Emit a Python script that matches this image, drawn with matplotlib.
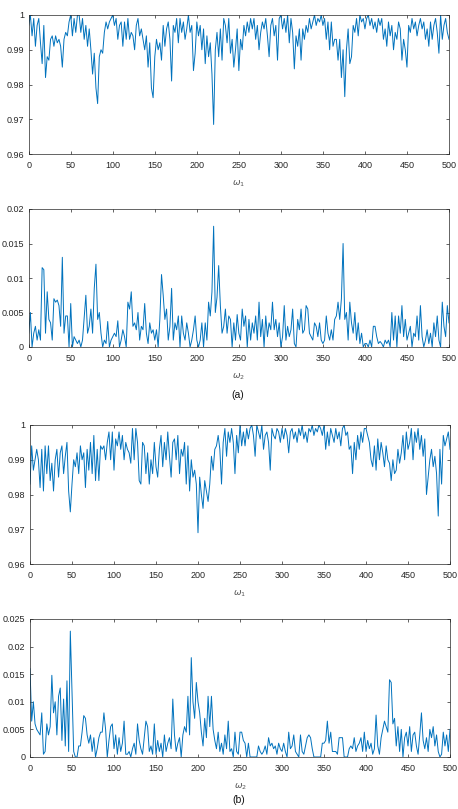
import numpy as np
import matplotlib
matplotlib.use("Agg")
import matplotlib.pyplot as plt
from matplotlib.ticker import FuncFormatter

# ========================= DATA =========================
# each series is sampled every 2 units over 0..500
A_W1 = [
    0.997, 1.000, 0.994, 0.999, 0.991, 0.997, 0.999, 0.992, 0.986, 0.997,
    0.982, 0.988, 0.987, 0.993, 0.994, 0.991, 0.994, 0.992, 0.993, 0.991,
    0.985, 0.993, 0.995, 0.994, 0.998, 1.000, 0.994, 0.999, 0.995, 1.000,
    1.000, 0.995, 0.999, 0.993, 0.997, 0.991, 0.996, 0.990, 0.983, 0.989,
    0.979, 0.9745, 0.988, 0.990, 0.989, 0.995, 0.998, 0.996, 0.998, 0.999,
    1.000, 0.997, 0.999, 0.993, 0.997, 0.998, 0.991, 0.998, 0.993, 0.999,
    0.993, 0.995, 0.994, 0.990, 0.997, 0.999, 0.994, 0.996, 0.993, 0.990,
    0.994, 0.985, 0.992, 0.979, 0.9762, 0.988, 0.993, 0.990, 0.992, 0.987,
    0.997, 0.991, 0.996, 0.998, 0.993, 0.981, 0.997, 0.995, 0.999, 0.992,
    0.999, 0.995, 0.998, 0.993, 0.996, 1.000, 0.995, 0.997, 0.984, 0.989,
    0.998, 0.994, 0.997, 0.990, 0.996, 0.986, 0.994, 0.988, 0.992, 0.983,
    0.9685, 0.990, 0.995, 0.988, 0.996, 0.987, 0.999, 0.997, 0.992, 0.999,
    0.989, 0.993, 0.985, 0.990, 0.996, 0.984, 0.993, 0.990, 0.997, 0.994,
    0.998, 0.995, 0.999, 0.996, 0.999, 0.993, 0.997, 0.990, 0.995, 0.998,
    0.996, 0.999, 0.994, 0.988, 0.997, 0.999, 0.994, 0.997, 0.987, 0.999,
    1.000, 0.996, 0.999, 0.995, 1.000, 0.992, 0.999, 0.995, 0.9845, 0.994,
    0.991, 0.996, 0.987, 0.996, 0.993, 0.997, 0.995, 0.999, 0.996, 0.998,
    1.000, 0.997, 0.999, 0.998, 1.000, 0.997, 0.999, 0.993, 0.998, 0.990,
    0.998, 0.991, 0.993, 0.993, 0.987, 0.993, 0.982, 0.990, 0.9765, 0.990,
    0.996, 0.986, 0.988, 0.997, 0.995, 0.999, 0.994, 1.000, 0.998, 0.999,
    0.996, 0.999, 1.000, 0.997, 0.999, 0.996, 0.998, 0.995, 0.999, 0.997,
    0.999, 0.993, 0.996, 0.991, 0.998, 0.994, 0.997, 0.990, 0.995, 0.993,
    0.998, 0.996, 0.987, 0.993, 0.990, 0.985, 0.997, 0.995, 0.999, 0.996,
    0.998, 0.994, 0.997, 0.999, 0.996, 0.998, 0.993, 0.996, 0.991, 0.998,
    0.993, 0.997, 0.999, 0.995, 0.989, 1.000, 0.993, 0.997, 0.999, 0.995,
    0.993,
]

A_W2 = [
    0.002, 0.005, 0.000, 0.002, 0.003, 0.001, 0.0025, 0.001, 0.0115, 0.0112,
    0.002, 0.008, 0.004, 0.0035, 0.001, 0.007, 0.0065, 0.0068, 0.006, 0.003,
    0.013, 0.002, 0.0045, 0.0045, 0.000, 0.0063, 0.000, 0.0015, 0.001, 0.0005,
    0.001, 0.000, 0.001, 0.0042, 0.0075, 0.002, 0.003, 0.0055, 0.002, 0.0085,
    0.012, 0.004, 0.005, 0.002, 0.000, 0.001, 0.0005, 0.0037, 0.000, 0.001,
    0.0015, 0.002, 0.0015, 0.0038, 0.000, 0.001, 0.0025, 0.0015, 0.000, 0.0065,
    0.0055, 0.008, 0.003, 0.0035, 0.0025, 0.005, 0.001, 0.003, 0.0025, 0.0063,
    0.002, 0.0005, 0.0035, 0.002, 0.0025, 0.001, 0.0025, 0.000, 0.004, 0.0105,
    0.0075, 0.004, 0.0055, 0.001, 0.003, 0.0085, 0.001, 0.0035, 0.0025, 0.0045,
    0.000, 0.0045, 0.002, 0.001, 0.0035, 0.002, 0.000, 0.001, 0.0025, 0.0045,
    0.001, 0.000, 0.001, 0.0035, 0.000, 0.0035, 0.001, 0.0065, 0.0045, 0.008,
    0.0175, 0.005, 0.0072, 0.0118, 0.006, 0.002, 0.003, 0.0055, 0.002, 0.0045,
    0.004, 0.000, 0.0035, 0.001, 0.0047, 0.002, 0.001, 0.0055, 0.003, 0.0045,
    0.000, 0.004, 0.001, 0.0035, 0.002, 0.0045, 0.001, 0.0065, 0.0015, 0.004,
    0.000, 0.0045, 0.0015, 0.0035, 0.0025, 0.0065, 0.0025, 0.004, 0.0015, 0.0035,
    0.000, 0.0015, 0.006, 0.001, 0.003, 0.0015, 0.0025, 0.0055, 0.0005, 0.000,
    0.004, 0.0025, 0.0055, 0.002, 0.0025, 0.006, 0.0055, 0.002, 0.0015, 0.001,
    0.0035, 0.003, 0.0015, 0.0035, 0.001, 0.0005, 0.001, 0.0045, 0.002, 0.001,
    0.0025, 0.001, 0.004, 0.0045, 0.0065, 0.004, 0.007, 0.015, 0.004, 0.005,
    0.001, 0.0065, 0.0035, 0.002, 0.005, 0.001, 0.0035, 0.0005, 0.002, 0.000,
    0.0005, 0.0005, 0.000, 0.001, 0.000, 0.003, 0.003, 0.0015, 0.0005, 0.0008,
    0.0005, 0.000, 0.001, 0.0005, 0.001, 0.000, 0.005, 0.001, 0.0045, 0.000,
    0.0045, 0.002, 0.006, 0.0015, 0.004, 0.001, 0.002, 0.003, 0.000, 0.002,
    0.0015, 0.0045, 0.001, 0.006, 0.0015, 0.000, 0.001, 0.0025, 0.0005, 0.002,
    0.000, 0.0035, 0.0015, 0.0045, 0.001, 0.000, 0.0065, 0.003, 0.0015, 0.006,
    0.0035,
]

B_W1 = [
    0.983, 0.994, 0.987, 0.990, 0.993, 0.990, 0.982, 0.993, 0.981, 0.994,
    0.986, 0.994, 0.984, 0.989, 0.981, 0.990, 0.993, 0.985, 0.992, 0.994,
    0.986, 0.991, 0.995, 0.981, 0.975, 0.983, 0.990, 0.988, 0.992, 0.986,
    0.994, 0.990, 0.992, 0.982, 0.993, 0.987, 0.995, 0.986, 0.997, 0.984,
    0.993, 0.984, 0.994, 0.993, 0.994, 0.990, 0.995, 0.998, 0.990, 0.998,
    0.987, 0.996, 0.994, 0.998, 0.993, 0.997, 0.990, 0.995, 0.993, 0.992,
    0.989, 0.999, 0.990, 0.999, 0.995, 0.984, 0.983, 0.995, 0.994, 0.986,
    0.992, 0.983, 0.990, 0.986, 0.995, 0.988, 0.985, 0.993, 0.997, 0.988,
    0.995, 0.990, 0.998, 0.991, 0.985, 0.995, 0.996, 0.990, 0.997, 0.986,
    0.993, 0.991, 0.995, 0.983, 0.994, 0.981, 0.990, 0.985, 0.987, 0.983,
    0.969, 0.985, 0.980, 0.976, 0.984, 0.981, 0.978, 0.983, 0.991, 0.987,
    0.993, 0.994, 0.997, 0.993, 0.983, 0.995, 0.999, 0.991, 0.998, 0.995,
    0.999, 0.995, 0.986, 0.997, 0.992, 1.000, 0.994, 0.998, 0.994, 0.999,
    0.996, 0.999, 1.000, 0.997, 0.991, 1.000, 0.998, 0.996, 1.000, 0.993,
    0.997, 0.998, 0.995, 0.987, 0.999, 0.997, 0.996, 0.999, 0.998, 0.995,
    0.999, 0.996, 0.999, 0.997, 0.992, 0.998, 0.999, 0.996, 0.998, 0.995,
    0.999, 0.997, 1.000, 0.996, 0.998, 0.995, 0.999, 0.998, 1.000, 0.997,
    0.999, 0.998, 1.000, 0.999, 0.997, 1.000, 0.993, 0.998, 0.994, 0.999,
    0.997, 0.995, 0.999, 0.996, 0.998, 0.994, 0.999, 1.000, 0.997, 0.998,
    0.993, 0.994, 0.986, 0.995, 0.990, 0.997, 0.993, 0.998, 0.995, 0.999,
    0.999, 0.997, 0.995, 0.990, 0.988, 0.994, 0.987, 0.996, 0.990, 0.995,
    0.992, 0.988, 0.994, 0.990, 0.989, 0.984, 0.990, 0.986, 0.987, 0.993,
    0.989, 0.992, 0.997, 0.990, 0.998, 0.993, 0.995, 0.999, 0.990, 0.998,
    0.995, 0.999, 0.993, 0.997, 0.991, 0.996, 0.980, 0.985, 0.990, 0.993,
    0.988, 0.991, 0.986, 0.9738, 0.993, 0.983, 0.997, 0.994, 0.996, 0.998,
    0.993,
]

B_W2 = [
    0.016, 0.0065, 0.010, 0.006, 0.005, 0.0045, 0.004, 0.008, 0.0005, 0.001,
    0.006, 0.004, 0.0055, 0.0148, 0.008, 0.010, 0.004, 0.011, 0.0125, 0.003,
    0.0105, 0.002, 0.0138, 0.001, 0.0228, 0.012, 0.001, 0.000, 0.000, 0.002,
    0.002, 0.0045, 0.0075, 0.007, 0.004, 0.0025, 0.004, 0.001, 0.0035, 0.000,
    0.0015, 0.0035, 0.0045, 0.0045, 0.008, 0.005, 0.000, 0.003, 0.0055, 0.006,
    0.0015, 0.004, 0.0005, 0.0035, 0.001, 0.0025, 0.0065, 0.0005, 0.0005, 0.001,
    0.000, 0.0015, 0.0025, 0.0005, 0.006, 0.003, 0.0015, 0.0005, 0.0035, 0.0065,
    0.0055, 0.001, 0.002, 0.0005, 0.006, 0.0005, 0.003, 0.001, 0.0025, 0.000,
    0.004, 0.001, 0.0025, 0.0035, 0.0015, 0.0105, 0.004, 0.001, 0.0025, 0.0035,
    0.000, 0.004, 0.0055, 0.0045, 0.011, 0.004, 0.018, 0.010, 0.007, 0.0135,
    0.010, 0.008, 0.0045, 0.002, 0.007, 0.0035, 0.011, 0.0055, 0.011, 0.005,
    0.003, 0.0015, 0.0045, 0.001, 0.0025, 0.0005, 0.004, 0.0015, 0.0065, 0.001,
    0.0015, 0.000, 0.0045, 0.001, 0.0005, 0.0045, 0.0045, 0.003, 0.0025, 0.000,
    0.0025, 0.000, 0.000, 0.000, 0.000, 0.000, 0.002, 0.001, 0.0005, 0.001,
    0.002, 0.0005, 0.0035, 0.002, 0.0025, 0.0015, 0.002, 0.0005, 0.0025, 0.0015,
    0.001, 0.0025, 0.001, 0.000, 0.0045, 0.0015, 0.002, 0.004, 0.001, 0.0005,
    0.000, 0.004, 0.001, 0.0005, 0.002, 0.0035, 0.004, 0.0035, 0.0015, 0.000,
    0.000, 0.000, 0.000, 0.000, 0.0025, 0.0025, 0.003, 0.0065, 0.0025, 0.0045,
    0.001, 0.001, 0.001, 0.0005, 0.0035, 0.0035, 0.0035, 0.000, 0.000, 0.000,
    0.0015, 0.002, 0.0015, 0.0035, 0.001, 0.002, 0.0025, 0.0035, 0.001, 0.0045,
    0.001, 0.003, 0.0015, 0.0025, 0.0005, 0.0015, 0.0076, 0.002, 0.0005, 0.0035,
    0.005, 0.0065, 0.0055, 0.0045, 0.014, 0.0135, 0.006, 0.007, 0.002, 0.0055,
    0.001, 0.005, 0.000, 0.0035, 0.0045, 0.002, 0.0055, 0.001, 0.004, 0.0045,
    0.002, 0.0005, 0.004, 0.008, 0.003, 0.0015, 0.0035, 0.001, 0.005, 0.0035,
    0.0055, 0.002, 0.004, 0.001, 0.000, 0.0005, 0.0045, 0.002, 0.004, 0.001,
    0.005,
]

X_TICKS = [0, 50, 100, 150, 200, 250, 300, 350, 400, 450, 500]
W1_TICKS = [0.96, 0.97, 0.98, 0.99, 1.0]
A_W2_TICKS = [0, 0.005, 0.01, 0.015, 0.02]
B_W2_TICKS = [0, 0.005, 0.01, 0.015, 0.02, 0.025]

# ========================= STYLE =========================
LINE_COLOR = "#0072BD"
AXIS_COLOR = "#262626"
LABEL_COLOR = "#555555"
W, H = 458, 809

plt.rcParams["font.family"] = ["Liberation Sans", "DejaVu Sans"]
plt.rcParams["mathtext.fontset"] = "dejavusans"


def fig_rect(left, top, right, bottom):
    # pixel box -> figure fraction
    return [left / W, 1 - bottom / H, (right - left) / W, (bottom - top) / H]


def draw_panel(fig, rect, values, yticks, xlabel):
    ax = fig.add_axes(rect)
    x = np.linspace(0, 500, len(values))
    ax.plot(x, values, color=LINE_COLOR, linewidth=0.7)
    ax.set_xlim(0, 500)
    ax.set_ylim(yticks[0], yticks[-1])
    ax.set_xticks(X_TICKS)
    ax.set_yticks(yticks)
    ax.yaxis.set_major_formatter(FuncFormatter(lambda v, p: f"{v:g}"))
    ax.tick_params(direction="in", length=2.5, width=0.5, colors=AXIS_COLOR,
                   labelsize=6.5, top=True, right=True)
    ax.tick_params(axis="x", pad=5)
    for s in ax.spines.values():
        s.set_color(AXIS_COLOR)
        s.set_linewidth(0.5)
    ax.set_xlabel(xlabel, fontsize=6.5, color=LABEL_COLOR, labelpad=6)
    return ax


fig = plt.figure(figsize=(W / 100, H / 100), dpi=100)
fig.patch.set_facecolor("white")

draw_panel(fig, fig_rect(28.7, 15, 449, 154), A_W1, W1_TICKS, r"$\omega_1$")
draw_panel(fig, fig_rect(28.7, 209, 449, 347), A_W2, A_W2_TICKS, r"$\omega_2$")
draw_panel(fig, fig_rect(30, 425, 450, 564), B_W1, W1_TICKS, r"$\omega_1$")
draw_panel(fig, fig_rect(30, 619, 450, 757), B_W2, B_W2_TICKS, r"$\omega_2$")

fig.text(238 / W, 1 - 395 / H, "(a)", ha="center", va="center", fontsize=7.5, color="#111111")
fig.text(239 / W, 1 - 800 / H, "(b)", ha="center", va="center", fontsize=7.5, color="#111111")

plt.savefig("out.png", dpi=100, facecolor="white")
plt.close()
